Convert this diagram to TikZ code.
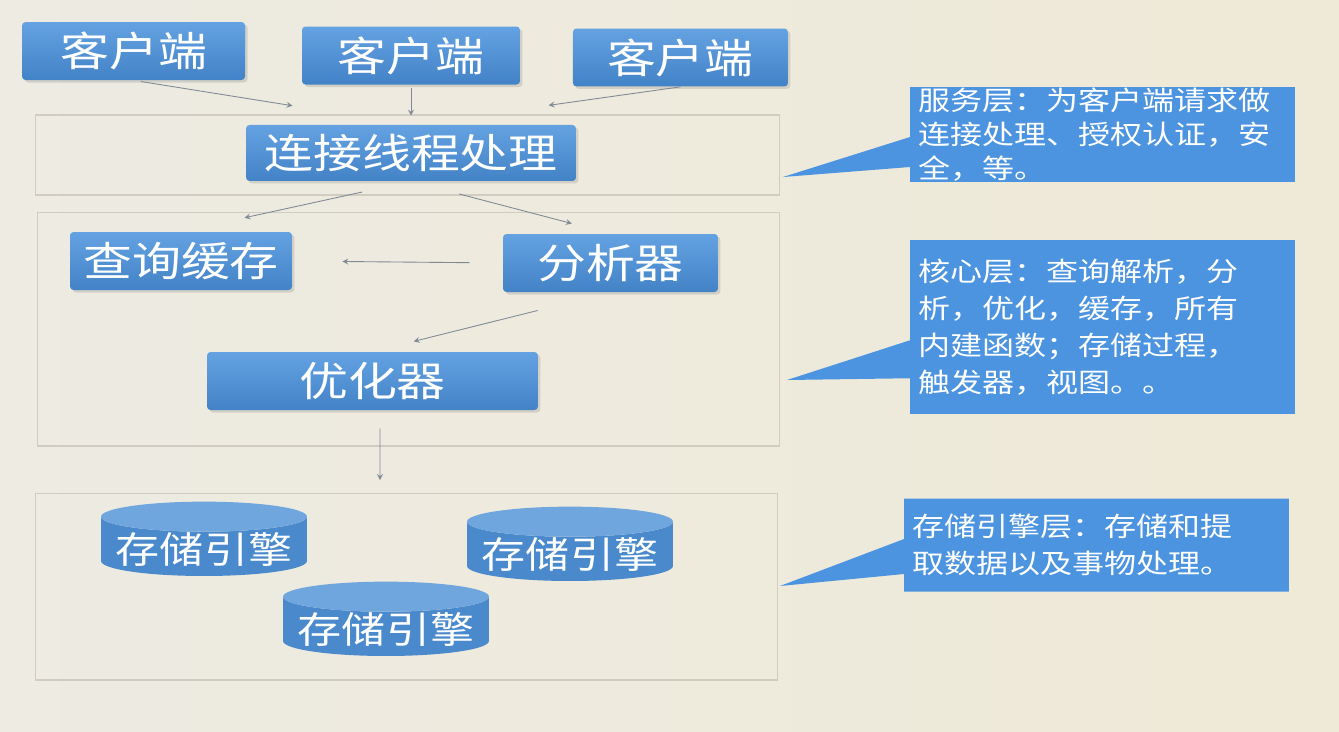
\documentclass[tikz,border=0pt]{standalone}
\usepackage{fontspec}
\usepackage{tikz}
\usetikzlibrary{shapes,shapes.geometric,shapes.callouts,arrows,positioning,shadows}
\newfontfamily\cjk[FakeStretch=1.2]{Noto Sans CJK SC}

\definecolor{bgleft}{RGB}{237,235,226}
\definecolor{bgright}{RGB}{239,233,215}
\definecolor{framegray}{RGB}{208,204,194}
\definecolor{boxtop}{RGB}{100,162,226}
\definecolor{boxbot}{RGB}{66,130,198}
\definecolor{cylbody}{RGB}{74,138,204}
\definecolor{cylend}{RGB}{112,166,222}
\definecolor{notefill}{RGB}{76,148,224}
\definecolor{linkgray}{RGB}{128,138,150}

\begin{document}
\begin{tikzpicture}[x=0.02cm, y=-0.02cm]

\tikzstyle{layerframe} = [rectangle, draw=framegray, line width=0.6pt, inner sep=0pt]
\tikzstyle{block} = [rectangle, rounded corners=2pt, top color=boxtop, bottom color=boxbot, text=white, font=\cjk\fontsize{23.2pt}{27pt}\selectfont, minimum height=1.16cm, drop shadow={opacity=0.25, shadow xshift=0.05cm, shadow yshift=-0.05cm}]
\tikzstyle{engine} = [cylinder, shape border rotate=90, aspect=0.16, minimum width=4.12cm, minimum height=1.2cm, inner ysep=0pt, cylinder uses custom fill, cylinder body fill=cylbody, cylinder end fill=cylend, text=white, font=\cjk\fontsize{20.9pt}{24pt}\selectfont]
\tikzstyle{note} = [rectangle callout, fill=notefill, text=white, font=\cjk\fontsize{15.2pt}{21pt}\selectfont, align=left, text width=7.38cm, inner xsep=0.16cm, inner ysep=0pt, minimum width=7.7cm]
\tikzstyle{link} = [->, >=stealth, draw=linkgray, line width=0.5pt]

\fill [left color=bgleft, right color=bgright] (0,0) rectangle (1339,731);
\useasboundingbox (0,0) rectangle (1339,731);

% layers
\node (layer1) [layerframe, minimum width=14.9cm, minimum height=1.6cm] at (407.5,155) {};
\node (layer2) [layerframe, minimum width=14.86cm, minimum height=4.68cm] at (408.5,329) {};
\node (layer3) [layerframe, minimum width=14.86cm, minimum height=3.74cm] at (406.5,586.5) {};

% clients and server
\node (client2) [block, minimum width=4.36cm] at (411,55.5) {客户端};
\node (client1) [block, minimum width=4.46cm, node distance=5.55cm, left of=client2, yshift=0.09cm] {客户端};
\node (client3) [block, minimum width=4.3cm, node distance=5.39cm, right of=client2, yshift=-0.04cm] {客户端};
\node (conn) [block, minimum width=6.6cm, minimum height=1.12cm, node distance=1.95cm, below of=client2] {连接线程处理};

\node (cache) [block, minimum width=4.44cm] at (181,261) {查询缓存};
\node (parser) [block, minimum width=4.3cm] at (610.5,263) {分析器};
\node (optimizer) [block, minimum width=6.62cm] at (372.5,381) {优化器};

% storage engines
\node (engine1) [engine] at (204,549) {存储引擎};
\node (engine2) [engine] at (570,554) {存储引擎};
\node (engine3) [engine] at (386,629) {存储引擎};
\coordinate (enginein) at (380,493);

% notes
\node (note1) [note, font=\cjk\fontsize{15.2pt}{19.4pt}\selectfont, minimum height=1.9cm, callout pointer width=0.6cm, callout absolute pointer={(783,177)}] at (1102.5,134.5) {服务层：为客户端请求做\\连接处理、授权认证，安\\全，等。};
\node (note2) [note, minimum height=3.48cm, callout pointer width=0.76cm, callout absolute pointer={(787,380)}] at (1102.5,327) {核心层：查询解析，分\\析，优化，缓存，所有\\内建函数；存储过程，\\触发器，视图。。};
\node (note3) [note, minimum height=1.86cm, callout pointer width=0.7cm, callout absolute pointer={(780,586)}] at (1096.5,545) {存储引擎层：存储和提\\取数据以及事物处理。};

\draw [link, shorten <=0.15cm, shorten >=2.4cm] (client1.south) -- (conn.north);
\draw [link, shorten <=2pt, shorten >=0.18cm] (client2.south) -- (conn.north);
\draw [link, shorten >=2.78cm] (client3.south) -- (conn.north);
\draw [link, shorten <=1cm, shorten >=1.3cm] (conn.south) -- (cache.north);
\draw [link, shorten <=1cm, shorten >=0.8cm] (conn.south) -- (parser.north);
\draw [link, shorten <=0.66cm, shorten >=1cm] (parser.west) -- (cache.east);
\draw [link, shorten <=1.5cm, shorten >=0.85cm] (parser.south) -- (optimizer.north);
\draw [link, shorten <=0.36cm, shorten >=0.26cm] ([xshift=0.15cm]optimizer.south) -- (enginein);

\end{tikzpicture}
\end{document}
